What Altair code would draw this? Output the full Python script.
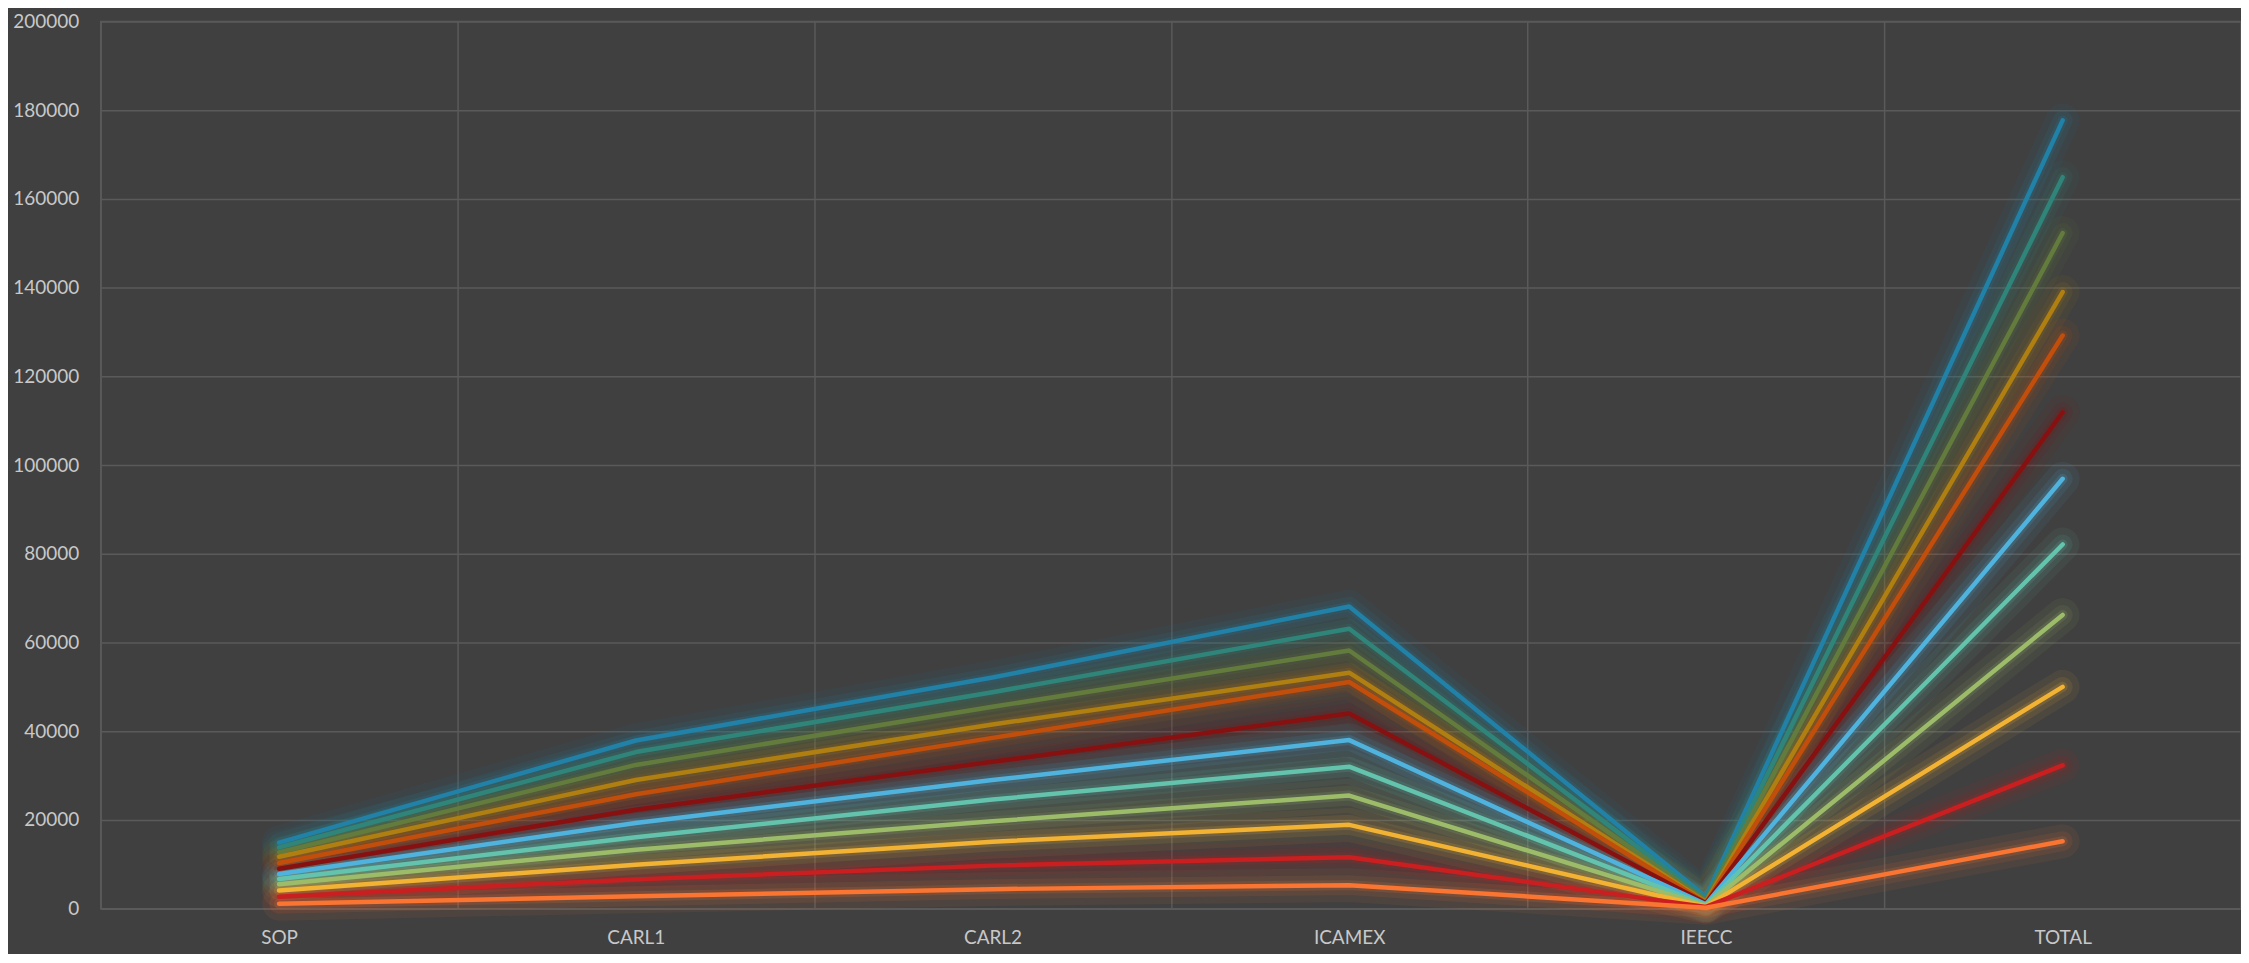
import altair as alt
import pandas as pd

categories = ["SOP", "CARL1", "CARL2", "ICAMEX", "IEECC", "TOTAL"]

series_names = ["S1", "S2", "S3", "S4", "S5", "S6", "S7", "S8", "S9", "S10", "S11", "S12"]
series_colors = ["#2181a6", "#30857a", "#637c3d", "#b07f12", "#c24e0b", "#871111",
                 "#4fb3de", "#63c3ad", "#9dbc6a", "#f2b233", "#c91f20", "#fa7532"]

s1 = [14900, 37900, 52100, 68100, 2700, 177700]
s2 = [13800, 35300, 48800, 63100, 2200, 164900]
s3 = [12700, 32400, 45500, 58200, 1800, 152300]
s4 = [11700, 29000, 41500, 53200, 1500, 139000]
s5 = [10300, 25800, 38500, 51100, 1300, 129200]
s6 = [9000, 22300, 33100, 44000, 1200, 111900]
s7 = [7800, 19300, 29000, 38000, 1000, 96900]
s8 = [6700, 16100, 24600, 32000, 800, 82100]
s9 = [5500, 13300, 19700, 25500, 700, 66200]
s10 = [4100, 9900, 15100, 18900, 500, 50000]
s11 = [2700, 6600, 9700, 11600, 400, 32300]
s12 = [1100, 2800, 4400, 5300, 200, 15200]

y_ticks = list(range(0, 200001, 20000))

all_series = [s1, s2, s3, s4, s5, s6, s7, s8, s9, s10, s11, s12]
rows = []
for name, vals in zip(series_names, all_series):
    for c, v in zip(categories, vals):
        rows.append({"category": c, "series": name, "value": v})
df = pd.DataFrame(rows)

x_enc = alt.X("category:N", sort=categories,
              scale=alt.Scale(paddingInner=0, paddingOuter=0),
              axis=alt.Axis(title=None, tickBand="extent", grid=True, ticks=False,
                            domain=False, labelAngle=0, labelPadding=20,
                            labelFontSize=19, labelColor="#c8c8c8",
                            labelFont="Lato", gridColor="#5a5a5a", gridWidth=1.5))
y_enc = alt.Y("value:Q", scale=alt.Scale(domain=[0, 200000], nice=False),
              axis=alt.Axis(title=None, values=y_ticks, format="d", grid=True,
                            ticks=False, domain=False, labelPadding=22,
                            labelFontSize=19, labelColor="#c8c8c8", labelFont="Lato",
                            gridColor="#5a5a5a", gridWidth=1.5))
color_enc = alt.Color("series:N", scale=alt.Scale(domain=series_names, range=series_colors),
                      legend=None)

base = alt.Chart(df).encode(x=x_enc, y=y_enc, color=color_enc, detail="series:N")

glow_outer = base.mark_line(strokeWidth=34, opacity=0.07, strokeCap="round", strokeJoin="round")
glow_mid = base.mark_line(strokeWidth=20, opacity=0.10, strokeCap="round", strokeJoin="round")
glow_inner = base.mark_line(strokeWidth=10, opacity=0.16, strokeCap="round", strokeJoin="round")
main = base.mark_line(strokeWidth=4.5, strokeCap="round", strokeJoin="round")

chart = alt.layer(glow_outer, glow_mid, glow_inner, main).properties(
    width=2147, height=890,
    autosize=alt.AutoSizeParams(type="none"),
    padding={"left": 93, "top": 12, "right": 0, "bottom": 44},
    background="#404040",
).configure_view(stroke="#5a5a5a", strokeWidth=1.5)

chart.save("out.html", embed_options={"renderer": "svg", "actions": False})
